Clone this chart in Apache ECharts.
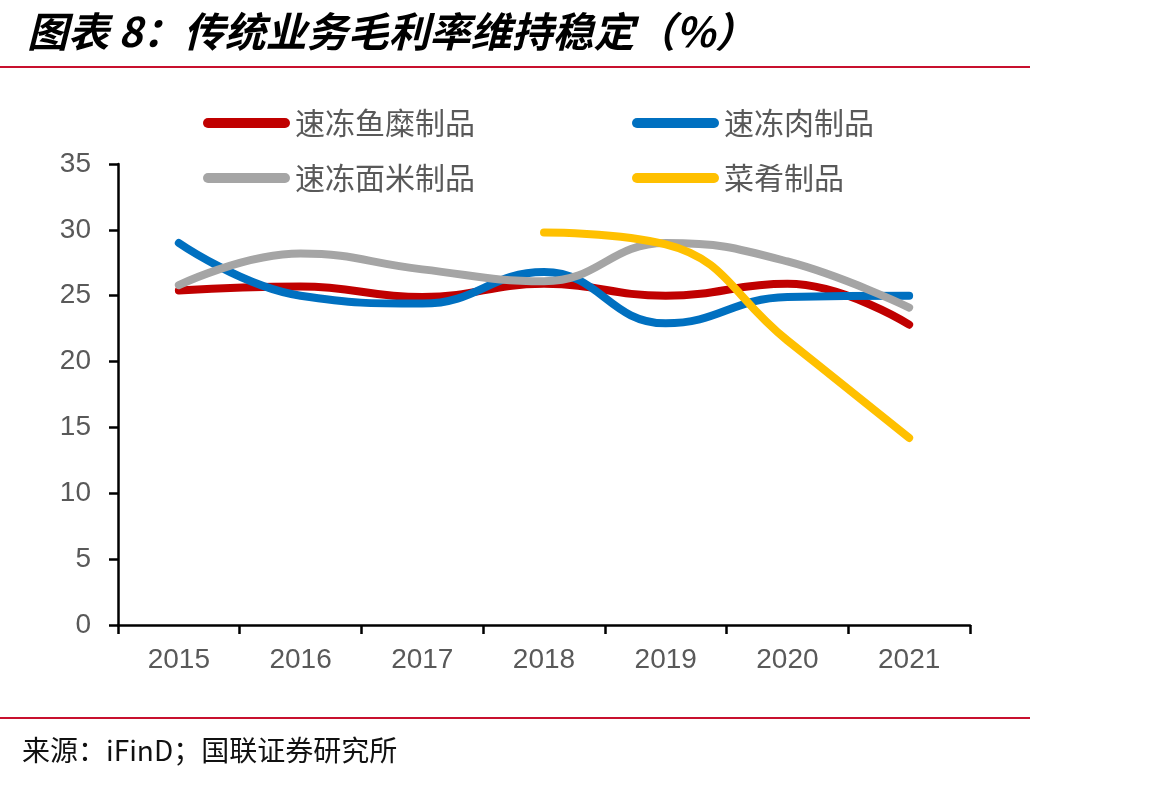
<!DOCTYPE html>
<html>
<head>
<meta charset="utf-8">
<script src="https://cdn.jsdelivr.net/npm/echarts@6/dist/echarts.min.js"></script>
<style>
html,body{margin:0;padding:0;background:#fff;}
#main{width:1164px;height:785px;}
</style>
</head>
<body>
<div id="main"></div>
<script>
var years = ['2015','2016','2017','2018','2019','2020','2021'];
var seriesNames = ['速冻鱼糜制品','速冻肉制品','速冻面米制品','菜肴制品'];
var fishData = [25.4, 25.7, 24.9, 25.9, 25.0, 25.9, 22.8];
var meatData = [29.0, 25.0, 24.4, 26.8, 22.9, 24.9, 25.0];
var noodleData = [25.8, 28.2, 27.0, 26.1, 29.0, 27.6, 24.1];
var dishData = [null, null, null, 29.8, 28.9, 21.6, 14.2];
var yTicks = [0, 5, 10, 15, 20, 25, 30, 35];
var colors = ['#C00000', '#0070C0', '#A5A5A5', '#FFC000'];

var capsule = 'path://M5,0 L82,0 A5,5 0 0 1 82,10 L5,10 A5,5 0 0 1 5,0 Z';
var cjk = '"Noto Sans CJK SC", sans-serif';
var num = '"Liberation Sans", Arial, sans-serif';

function makeLine(name, data, color){
	return {
		name: name,
		type: 'line',
		data: data,
		smooth: 0.45,
		showSymbol: false,
		symbol: 'none',
		connectNulls: false,
		lineStyle: {color: color, width: 8, cap: 'round', join: 'round'},
		itemStyle: {color: color}
	};
}

var legendBase = {
	orient: 'vertical',
	icon: capsule,
	itemWidth: 87,
	itemHeight: 10,
	itemGap: 25,
	selectedMode: false,
	textStyle: {fontFamily: cjk, fontSize: 30, color: '#595959', lineHeight: 30}
};

var myChart = echarts.init(document.getElementById('main'));
var option = {
	backgroundColor: '#fff',
	animation: false,
	color: colors,
	title: {
		text: '图表 8：传统业务毛利率维持稳定（%）',
		left: 22,
		top: 6,
		textStyle: {fontFamily: cjk, fontSize: 41, fontWeight: 'bold', fontStyle: 'italic', color: '#000'}
	},
	graphic: [
		{type: 'line', shape: {x1: 0, y1: 67, x2: 1030, y2: 67}, style: {stroke: '#C8102E', lineWidth: 2}},
		{type: 'line', shape: {x1: 0, y1: 718, x2: 1030, y2: 718}, style: {stroke: '#C8102E', lineWidth: 2}},
		{type: 'text', left: 22, top: 736, style: {text: '来源：iFinD；国联证券研究所', font: '28px "Noto Sans CJK SC", sans-serif', fill: '#111'}}
	],
	legend: [
		Object.assign({}, legendBase, {left: 198, top: 103, data: [seriesNames[0], seriesNames[2]]}),
		Object.assign({}, legendBase, {left: 627, top: 103, data: [seriesNames[1], seriesNames[3]]})
	],
	grid: {left: 118, right: 194, top: 164, bottom: 160, containLabel: false},
	xAxis: {
		type: 'category',
		data: years,
		boundaryGap: true,
		axisLine: {lineStyle: {color: '#000', width: 2.5}},
		axisTick: {show: true, length: 9, alignWithLabel: false, lineStyle: {color: '#000', width: 2.5}},
		axisLabel: {fontFamily: num, fontSize: 28, color: '#595959', margin: 21}
	},
	yAxis: {
		type: 'value',
		min: yTicks[0],
		max: yTicks[yTicks.length - 1],
		interval: 5,
		axisLine: {show: true, lineStyle: {color: '#000', width: 2.5}},
		axisTick: {show: true, length: 9, lineStyle: {color: '#000', width: 2.5}},
		splitLine: {show: false},
		axisLabel: {fontFamily: num, fontSize: 28, color: '#595959', margin: 27}
	},
	series: [
		makeLine(seriesNames[0], fishData, colors[0]),
		makeLine(seriesNames[1], meatData, colors[1]),
		makeLine(seriesNames[2], noodleData, colors[2]),
		makeLine(seriesNames[3], dishData, colors[3])
	]
};
myChart.setOption(option);
</script>
</body>
</html>
